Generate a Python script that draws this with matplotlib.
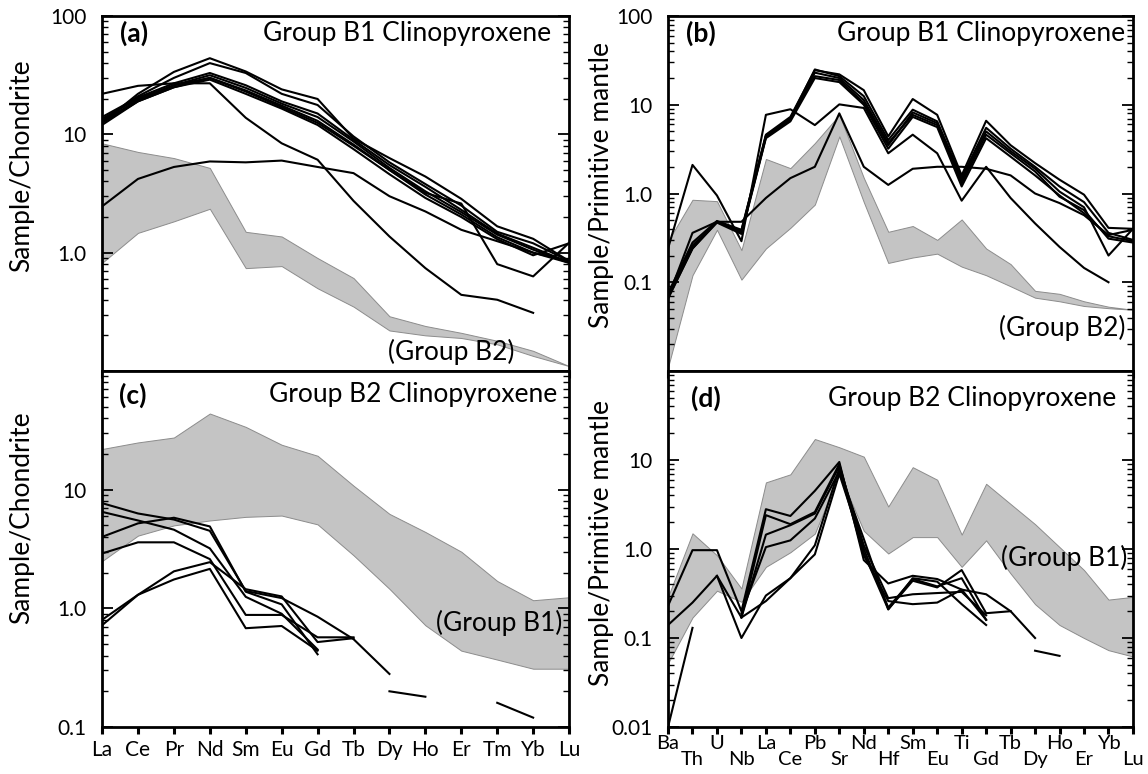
import matplotlib
matplotlib.use("Agg")
import matplotlib.pyplot as plt
import numpy as np

plt.rcParams['font.family'] = ['Lato', 'DejaVu Sans']

nan = np.nan

# element orders
ree = ['La', 'Ce', 'Pr', 'Nd', 'Sm', 'Eu', 'Gd', 'Tb', 'Dy', 'Ho', 'Er', 'Tm', 'Yb', 'Lu']
trace = ['Ba', 'Th', 'U', 'Nb', 'La', 'Ce', 'Pb', 'Sr', 'Nd', 'Hf',
         'Sm', 'Eu', 'Ti', 'Gd', 'Tb', 'Dy', 'Ho', 'Er', 'Yb', 'Lu']

# (a) Group B1 cpx, chondrite normalised REE
a_lines = [
    [12.8, 19.5, 26, 31.6, 24.7, 18.2, 14, 8.7, 5.2, 3.3, 2.2, 1.42, 1.06, 0.82],
    [12.5, 22, 33.7, 44, 34, 24, 19.9, 9.2, 6.3, 4.4, 2.85, 1.67, 1.31, 0.85],
    [13, 21, 30, 40, 33, 22, 17.7, 9.6, 5.8, 3.8, 2.5, 1.5, 1.2, 0.85],
    [22, 25.7, 27, 27, 13.8, 8.4, 6.1, 2.74, 1.37, 0.74, 0.44, 0.40, 0.31, nan],
    [2.46, 4.2, 5.3, 5.9, 5.8, 6.0, 5.3, 4.7, 3.0, 2.23, 1.56, 1.25, 1.0, 0.85],
    [13.5, 20, 26, 30, 23, 17, 12.5, 8, 5, 3.2, 2.6, 0.8, 0.63, 1.21],
    [12, 19, 25, 29, 22, 16.5, 12, 7.5, 4.6, 2.9, 2.0, 1.3, 0.95, 1.2],
    [14, 20.5, 27, 33, 26, 19, 15, 9, 5.5, 3.6, 2.3, 1.45, 1.1, 0.83],
    [12.5, 19, 25, 30, 23.5, 17.5, 13, 8.2, 5, 3.1, 2.1, 1.35, 1.0, 0.82],
]
a_field_lo = [0.82, 1.47, 1.84, 2.35, 0.74, 0.77, 0.50, 0.35, 0.22, 0.20, 0.19, 0.168, 0.134, 0.11]
a_field_hi = [8.4, 7.1, 6.3, 5.2, 1.5, 1.37, 0.9, 0.61, 0.29, 0.24, 0.21, 0.18, 0.148, 0.11]

# (b) Group B1 cpx, primitive mantle normalised
b_lines = [
    [0.067, 0.24, 0.48, 0.37, 4.4, 6.7, 23, 20, 11.3, 3.7, 7.7, 5.9, 1.3, 4.6, 2.84, 1.77, 0.92, 0.65, 0.31, 0.28],
    [0.07, 0.26, 0.48, 0.38, 4.6, 7.3, 24.5, 22, 14.6, 4.4, 11.6, 7.7, 1.6, 6.6, 3.5, 2.2, 1.43, 0.97, 0.41, 0.40],
    [0.24, 2.1, 0.95, 0.29, 7.7, 8.9, 5.9, 10.1, 9.2, 2.84, 4.6, 2.84, 0.83, 2.0, 0.89, 0.46, 0.25, 0.145, 0.10, nan],
    [0.067, 0.36, 0.48, 0.48, 0.89, 1.49, 2.0, 8.0, 2.0, 1.25, 1.9, 2.0, 2.0, 1.9, 1.6, 1.0, 0.78, 0.57, 0.34, 0.39],
    [0.07, 0.25, 0.48, 0.36, 4.3, 6.8, 21, 19, 10.5, 3.5, 8.2, 6.2, 1.4, 5.0, 3.0, 1.9, 1.05, 0.7, 0.2, 0.4],
    [0.075, 0.28, 0.49, 0.39, 4.5, 7.0, 25, 21, 12.5, 4.0, 8.8, 6.5, 1.5, 5.5, 3.2, 2.0, 1.2, 0.8, 0.36, 0.3],
    [0.065, 0.24, 0.47, 0.35, 4.2, 6.5, 20, 18, 10, 3.2, 7.3, 5.6, 1.2, 4.2, 2.6, 1.6, 0.95, 0.6, 0.33, 0.29],
]
b_field_lo = [0.011, 0.12, 0.39, 0.107, 0.24, 0.41, 0.75, 4.4, 0.8, 0.165, 0.19, 0.21, 0.15, 0.12,
              0.09, 0.067, 0.061, 0.054, 0.051, 0.049]
b_field_hi = [0.29, 0.85, 0.82, 0.23, 2.45, 1.93, 3.7, 7.7, 1.5, 0.37, 0.43, 0.30, 0.51, 0.24,
              0.16, 0.08, 0.074, 0.061, 0.053, 0.049]

# (c) Group B2 cpx, chondrite normalised REE
c_lines = [
    [7.7, 6.3, 5.6, 4.5, 1.4, 1.22, 0.85, 0.55, 0.28, nan, nan, nan, nan, nan],
    [6.5, 5.5, 4.6, 3.2, 1.25, 0.9, 0.45, nan, nan, nan, nan, nan, nan, nan],
    [4.0, 5.2, 5.8, 4.9, 1.38, 1.08, 0.41, nan, nan, nan, nan, nan, nan, nan],
    [2.9, 3.6, 3.6, 2.6, 0.88, 0.88, 0.57, 0.57, nan, nan, nan, nan, nan, nan],
    [0.80, 1.3, 2.05, 2.45, 1.45, 1.26, 0.52, 0.56, nan, nan, nan, nan, nan, nan],
    [0.72, 1.3, 1.75, 2.15, 0.68, 0.71, 0.44, nan, nan, nan, nan, nan, nan, nan],
    [nan, nan, nan, nan, nan, nan, nan, nan, 0.2, 0.18, nan, nan, nan, nan],
    [nan, nan, nan, nan, nan, nan, nan, nan, nan, nan, nan, 0.16, 0.12, nan],
]
c_field_lo = [2.5, 4.1, 5.0, 5.5, 5.9, 6.05, 5.1, 2.8, 1.46, 0.72, 0.44, 0.37, 0.31, 0.31]
c_field_hi = [22, 25, 27.5, 43.8, 33.8, 23.9, 19.3, 10.8, 6.25, 4.4, 3.0, 1.7, 1.17, 1.24]

# (d) Group B2 cpx, primitive mantle normalised
d_lines = [
    [0.23, 0.97, 0.97, 0.2, 2.8, 2.35, 4.5, 9.5, 0.75, 0.41, 0.5, 0.46, 0.35, 0.31, 0.2, 0.1, nan, nan, nan, nan],
    [0.14, 0.25, 0.5, 0.17, 2.4, 1.9, 2.6, 9.0, 0.9, 0.21, 0.44, 0.37, 0.58, 0.19, 0.2, nan, nan, nan, nan, nan],
    [nan, nan, nan, 0.17, 1.45, 1.85, 2.5, 8.5, 1.1, 0.28, 0.31, 0.32, 0.33, 0.18, nan, nan, nan, nan, nan, nan],
    [nan, nan, nan, 0.19, 1.05, 1.25, 2.2, 7.5, 1.3, 0.21, 0.47, 0.43, 0.24, 0.14, nan, nan, nan, nan, nan, nan],
    [nan, nan, 0.5, 0.1, 0.3, 0.47, 1.1, 8.0, 0.85, 0.26, 0.24, 0.25, 0.35, 0.16, nan, nan, nan, nan, nan, nan],
    [nan, nan, nan, 0.17, 0.26, 0.47, 0.87, 7.0, 1.0, 0.22, 0.46, 0.38, 0.47, 0.16, nan, nan, nan, nan, nan, nan],
    [0.01, 0.13, nan, nan, nan, nan, nan, nan, nan, nan, nan, nan, nan, nan, nan, nan, nan, nan, nan, nan],
    [nan, nan, nan, nan, nan, nan, nan, nan, nan, nan, nan, nan, nan, nan, nan, 0.072, 0.063, nan, nan, nan],
]
d_field_lo = [0.052, 0.17, 0.34, 0.255, 0.63, 0.92, 1.49, 7.0, 1.6, 0.89, 1.36, 1.36, 0.63, 1.25,
              0.53, 0.24, 0.14, 0.10, 0.073, 0.062]
d_field_hi = [0.29, 1.5, 0.85, 0.36, 5.6, 6.9, 17.2, 13.9, 10.9, 3.0, 8.3, 6.0, 1.45, 5.4,
              3.2, 1.9, 1.05, 0.58, 0.27, 0.29]

fig = plt.figure(figsize=(11.48, 7.74), dpi=100)

ax_a = fig.add_axes([0.0889, 0.5207, 0.4068, 0.4586])
ax_b = fig.add_axes([0.5819, 0.5207, 0.4050, 0.4586])
ax_c = fig.add_axes([0.0889, 0.0607, 0.4068, 0.4600])
ax_d = fig.add_axes([0.5819, 0.0607, 0.4050, 0.4600])


def draw(ax, labels, lines, lo, hi, ylim, yticks, yticklabels):
    x = np.arange(len(labels))
    ax.fill_between(x, lo, hi, facecolor='#c4c4c4', edgecolor='#8c8c8c', linewidth=0.7, zorder=1)
    for v in lines:
        ax.plot(x, v, color='black', linewidth=1.5, zorder=2)
    ax.set_yscale('log')
    ax.set_xlim(0, len(labels) - 1)
    ax.set_ylim(*ylim)
    ax.set_xticks(x)
    ax.set_yticks(yticks)
    ax.set_yticklabels(yticklabels)
    ax.yaxis.set_minor_locator(matplotlib.ticker.LogLocator(base=10, subs=np.arange(2, 10)))
    ax.yaxis.set_minor_formatter(matplotlib.ticker.NullFormatter())
    ax.tick_params(axis='y', which='major', direction='in', length=8, width=1.3,
                   left=True, right=True, labelsize=15, pad=11)
    ax.tick_params(axis='y', which='minor', direction='in', length=4, width=1.0,
                   left=True, right=True)
    ax.tick_params(axis='x', which='major', direction='out', length=5, width=2.2, labelsize=15)
    for s in ax.spines.values():
        s.set_linewidth(2)


draw(ax_a, ree, a_lines, a_field_lo, a_field_hi, (0.1, 100),
     [0.1, 1, 10, 100], ['', '1.0', '10', '100'])
draw(ax_b, trace, b_lines, b_field_lo, b_field_hi, (0.01, 100),
     [0.01, 0.1, 1, 10, 100], ['', '0.1', '1.0', '10', '100'])
draw(ax_c, ree, c_lines, c_field_lo, c_field_hi, (0.1, 100),
     [0.1, 1, 10, 100], ['0.1', '1.0', '10', ''])
draw(ax_d, trace, d_lines, d_field_lo, d_field_hi, (0.01, 100),
     [0.01, 0.1, 1, 10, 100], ['0.01', '0.1', '1.0', '10', ''])

ax_a.set_xticklabels([])
ax_b.set_xticklabels([])
ax_c.set_xticklabels(ree)
ax_c.tick_params(axis='x', pad=4)

# staggered labels for the spider diagram: every second one sits lower
ax_d.set_xticklabels(trace)
ax_d.tick_params(axis='x', labelsize=14.5)
for i, t in enumerate(ax_d.xaxis.get_major_ticks()):
    t.set_pad(1 if i % 2 == 0 else 12.5)

ylfs = 19
ax_a.set_ylabel('Sample/Chondrite', fontsize=ylfs)
ax_a.yaxis.set_label_coords(-0.146, 0.577)
ax_c.set_ylabel('Sample/Chondrite', fontsize=ylfs)
ax_c.yaxis.set_label_coords(-0.146, 0.587)
ax_b.set_ylabel('Sample/Primitive mantle', fontsize=ylfs)
ax_b.yaxis.set_label_coords(-0.116, 0.525)
ax_d.set_ylabel('Sample/Primitive mantle', fontsize=ylfs)
ax_d.yaxis.set_label_coords(-0.116, 0.517)

tfs = 19
ax_a.text(0.039, 0.952, '(a)', transform=ax_a.transAxes, fontsize=tfs, fontweight='bold', va='center')
ax_a.text(0.961, 0.952, 'Group B1 Clinopyroxene', transform=ax_a.transAxes, fontsize=tfs, ha='right', va='center')
ax_a.text(0.884, 0.054, '(Group B2)', transform=ax_a.transAxes, fontsize=tfs, ha='right', va='center')

ax_b.text(0.039, 0.952, '(b)', transform=ax_b.transAxes, fontsize=tfs, fontweight='bold', va='center')
ax_b.text(0.983, 0.952, 'Group B1 Clinopyroxene', transform=ax_b.transAxes, fontsize=tfs, ha='right', va='center')
ax_b.text(0.983, 0.121, '(Group B2)', transform=ax_b.transAxes, fontsize=tfs, ha='right', va='center')

ax_c.text(0.037, 0.933, '(c)', transform=ax_c.transAxes, fontsize=tfs, fontweight='bold', va='center')
ax_c.text(0.974, 0.933, 'Group B2 Clinopyroxene', transform=ax_c.transAxes, fontsize=tfs, ha='right', va='center')
ax_c.text(0.985, 0.292, '(Group B1)', transform=ax_c.transAxes, fontsize=tfs, ha='right', va='center')

ax_d.text(0.049, 0.924, '(d)', transform=ax_d.transAxes, fontsize=tfs, fontweight='bold', va='center')
ax_d.text(0.963, 0.924, 'Group B2 Clinopyroxene', transform=ax_d.transAxes, fontsize=tfs, ha='right', va='center')
ax_d.text(0.987, 0.475, '(Group B1)', transform=ax_d.transAxes, fontsize=tfs, ha='right', va='center')

fig.savefig('out.png', dpi=100)
